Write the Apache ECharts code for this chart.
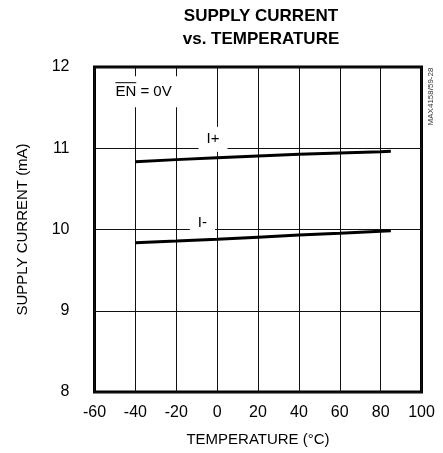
<!DOCTYPE html>
<html>
<head>
<meta charset="utf-8">
<script src="https://cdn.jsdelivr.net/npm/echarts@6/dist/echarts.min.js"></script>
<style>
  html, body { margin: 0; padding: 0; background: #fff; }
  #chart { width: 443px; height: 453px; }
</style>
</head>
<body>
<div id="chart"></div>
<script>
// Supply current vs. temperature, EN = 0V
const temperatures = [-40, -20, 0, 20, 40, 60, 80, 85];
const iPlus  = [10.835, 10.86, 10.884, 10.906, 10.926, 10.943, 10.958, 10.962];
const iMinus = [9.838, 9.858, 9.879, 9.906, 9.932, 9.953, 9.977, 9.984];

const xTickMin = -60, xTickMax = 100, xTickStep = 20;
const yTickMin = 8, yTickMax = 12, yTickStep = 1;

// where the curve names sit, in data units
const iPlusLabelAt  = [-2, 11.11];
const iMinusLabelAt = [-7.2, 10.08];
const enLabelAt     = [-36, 11.69];

const FONT = "'Liberation Sans', Arial, sans-serif";

const chart = echarts.init(document.getElementById('chart'), null, { renderer: 'canvas' });

function pairs(xs, ys) { return xs.map((x, i) => [x, ys[i]]); }

function curveLabel(text, coord) {
  return {
    symbol: 'circle',
    symbolSize: 1,
    silent: true,
    itemStyle: { color: 'rgba(0,0,0,0)' },
    label: {
      show: true,
      position: 'inside',
      formatter: text,
      color: '#000',
      fontFamily: FONT,
      fontSize: 15,
      backgroundColor: '#fff',
      padding: [5, 8]
    },
    data: [{ coord: coord }]
  };
}

const option = {
  animation: false,
  backgroundColor: '#fff',
  title: {
    text: 'SUPPLY CURRENT\nvs. TEMPERATURE',
    left: 256,
    top: 0,
    textAlign: 'center',
    textStyle: {
      fontFamily: FONT,
      fontWeight: 'bold',
      fontSize: 17,
      lineHeight: 23,
      color: '#000'
    }
  },
  grid: {
    left: 94.5, right: 21.5, top: 67, bottom: 61,
    show: true,
    borderColor: '#000',
    borderWidth: 3,
    backgroundColor: 'transparent',
    containLabel: false
  },
  xAxis: {
    type: 'value',
    min: xTickMin, max: xTickMax, interval: xTickStep,
    name: 'TEMPERATURE (°C)',
    nameLocation: 'middle',
    nameGap: 40,
    nameTextStyle: { fontFamily: FONT, fontSize: 15, color: '#000' },
    axisLine: { show: false },
    axisTick: { show: false },
    axisLabel: { fontFamily: FONT, fontSize: 16, color: '#000', margin: 13 },
    splitLine: { show: true, lineStyle: { color: '#111', width: 1 } }
  },
  yAxis: {
    type: 'value',
    min: yTickMin, max: yTickMax, interval: yTickStep,
    name: 'SUPPLY CURRENT (mA)',
    nameLocation: 'middle',
    nameGap: 64,
    nameTextStyle: { fontFamily: FONT, fontSize: 15, color: '#000' },
    axisLine: { show: false },
    axisTick: { show: false },
    axisLabel: { fontFamily: FONT, fontSize: 16, color: '#000', margin: 25 },
    splitLine: { show: true, lineStyle: { color: '#111', width: 1 } }
  },
  series: [
    {
      name: 'I+',
      type: 'line',
      data: pairs(temperatures, iPlus),
      showSymbol: false,
      lineStyle: { color: '#000', width: 3 },
      markPoint: curveLabel('I+', iPlusLabelAt),
      z: 3
    },
    {
      name: 'I-',
      type: 'line',
      data: pairs(temperatures, iMinus),
      showSymbol: false,
      lineStyle: { color: '#000', width: 3 },
      markPoint: curveLabel('I-', iMinusLabelAt),
      z: 3
    }
  ]
};

chart.setOption(option);

// "EN = 0V" condition note with an overbar on EN, plus the figure code on the right edge
(function addNotes() {
  const size = 15;
  const font = size + 'px ' + FONT;
  const ctx = document.createElement('canvas').getContext('2d');
  ctx.font = font;
  const full = 'EN = 0V';
  const fullW = ctx.measureText(full).width;
  const enW = ctx.measureText('EN').width;

  const p = chart.convertToPixel({ gridIndex: 0 }, enLabelAt);
  const cx = p[0], cy = p[1];
  const left = cx - fullW / 2;

  const rect = chart.getDom().getBoundingClientRect();

  chart.setOption({
    graphic: [
      {
        type: 'rect',
        z: 10,
        shape: { x: cx - 38, y: cy - 16, width: 77, height: 31 },
        style: { fill: '#fff' }
      },
      {
        type: 'text',
        z: 11,
        x: cx, y: cy,
        style: {
          text: full,
          font: font,
          fill: '#000',
          align: 'center',
          verticalAlign: 'middle'
        }
      },
      {
        type: 'line',
        z: 11,
        shape: { x1: left, y1: cy - 9.5, x2: left + enW, y2: cy - 9.5 },
        style: { stroke: '#000', lineWidth: 1 }
      },
      {
        type: 'text',
        z: 11,
        x: rect.width - 12, y: 96.5,
        rotation: Math.PI / 2,
        style: {
          text: 'MAX4158/59-28',
          font: '8px ' + FONT,
          fill: '#333',
          align: 'center',
          verticalAlign: 'middle'
        }
      }
    ]
  });
})();
</script>
</body>
</html>
